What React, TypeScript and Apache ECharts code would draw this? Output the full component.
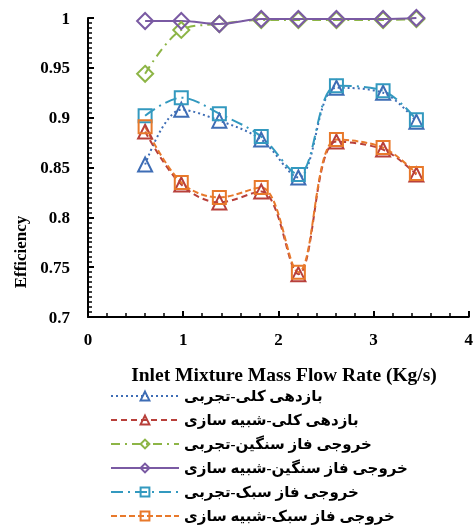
import React, { useEffect, useRef } from "react";
import * as echarts from "echarts";

const flowRates = [0.6, 0.98, 1.38, 1.82, 2.21, 2.61, 3.1, 3.45];
const overallExp = [0.853, 0.908, 0.897, 0.878, 0.84, 0.93, 0.925, 0.896];
const overallSim = [0.886, 0.833, 0.815, 0.826, 0.743, 0.876, 0.868, 0.843];
const heavyExp = [0.944, 0.988, 0.994, 0.998, 0.998, 0.998, 0.998, 0.999];
const heavySim = [0.997, 0.997, 0.994, 0.999, 0.999, 0.999, 0.999, 1.0];
const lightExp = [0.902, 0.92, 0.904, 0.881, 0.843, 0.932, 0.927, 0.898];
const lightSim = [0.891, 0.835, 0.82, 0.83, 0.745, 0.878, 0.87, 0.844];

const seriesNames = [
  "بازدهی کلی-تجربی",
  "بازدهی کلی-شبیه سازی",
  "خروجی فاز سنگین-تجربی",
  "خروجی فاز سنگین-شبیه سازی",
  "خروجی فاز سبک-تجربی",
  "خروجی فاز سبک-شبیه سازی",
];

const xTitle = "Inlet Mixture Mass Flow Rate (Kg/s)";
const yTitle = "Efficiency";

const SERIF = "'Liberation Serif', 'Times New Roman', 'DejaVu Sans', serif";

export default function App() {
  const ref = useRef<HTMLDivElement>(null);
  useEffect(() => {
    if (!ref.current) return;
    const chart = echarts.init(ref.current, undefined, { renderer: "svg" });
    const mk = (
      name: string,
      values: number[],
      color: string,
      symbol: string,
      size: number,
      dash: any
    ) => ({
      name,
      type: "line",
      data: flowRates.map((x, i) => [x, values[i]]),
      smooth: 0.35,
      symbol,
      symbolSize: size,
      showAllSymbol: true,
      lineStyle: { color, width: 2, type: dash },
      itemStyle: { color: "rgba(255,255,255,0)", borderColor: color, borderWidth: 2 },
    });
    chart.setOption({
      animation: false,
      grid: { left: 88, top: 18, width: 389, height: 299, containLabel: false },
      xAxis: {
        type: "value",
        min: 0,
        max: 4,
        interval: 1,
        axisLine: { lineStyle: { color: "#000", width: 2 } },
        axisTick: { inside: true, length: 6, lineStyle: { color: "#000", width: 2 } },
        minorTick: { show: true, splitNumber: 5, length: 4, lineStyle: { color: "#000", width: 1.5 } },
        splitLine: { show: false },
        axisLabel: { color: "#000", fontFamily: SERIF, fontWeight: "bold", fontSize: 17, margin: 14 },
      },
      yAxis: {
        type: "value",
        min: 0.7,
        max: 1,
        interval: 0.05,
        axisLine: { show: true, lineStyle: { color: "#000", width: 2 } },
        axisTick: { show: true, inside: true, length: 6, lineStyle: { color: "#000", width: 2 } },
        minorTick: { show: true, splitNumber: 10, length: 4, lineStyle: { color: "#000", width: 1.5 } },
        splitLine: { show: false },
        axisLabel: { color: "#000", fontFamily: SERIF, fontWeight: "bold", fontSize: 17, margin: 18 },
      },
      legend: {
        orient: "vertical",
        left: 110,
        top: 386,
        padding: 0,
        height: 200,
        itemWidth: 68,
        itemHeight: 11,
        itemGap: 4,
        textStyle: {
          color: "#000",
          fontFamily: SERIF,
          fontWeight: "bold",
          fontSize: 15,
          lineHeight: 17,
          padding: [3, 0, 0, 0],
        },
        data: seriesNames,
      },
      graphic: [
        {
          type: "text",
          x: 20,
          y: 252,
          rotation: Math.PI / 2,
          style: {
            text: yTitle,
            fontFamily: SERIF,
            fontWeight: "bold",
            fontSize: 17,
            fill: "#000",
            align: "center",
            verticalAlign: "middle",
          },
        },
        {
          type: "text",
          x: 284,
          y: 374,
          style: {
            text: xTitle,
            fontFamily: SERIF,
            fontWeight: "bold",
            fontSize: 19.5,
            fill: "#000",
            align: "center",
            verticalAlign: "middle",
          },
        },
      ],
      series: [
        mk(seriesNames[0], overallExp, "#3e6db5", "triangle", 14, [2, 3]),
        mk(seriesNames[1], overallSim, "#b8403b", "triangle", 14, [6, 4]),
        mk(seriesNames[2], heavyExp, "#8db546", "diamond", 16, [9, 5, 2, 5]),
        mk(seriesNames[3], heavySim, "#7a5aa3", "diamond", 16, "solid"),
        mk(seriesNames[4], lightExp, "#3399bf", "rect", 13, [12, 5, 2, 5]),
        mk(seriesNames[5], lightSim, "#e8792b", "rect", 13, [6, 3]),
      ],
    });
    return () => chart.dispose();
  }, []);
  return (
    <div
      ref={ref}
      style={{ position: "fixed", left: 0, top: 0, width: 476, height: 529 }}
    />
  );
}
